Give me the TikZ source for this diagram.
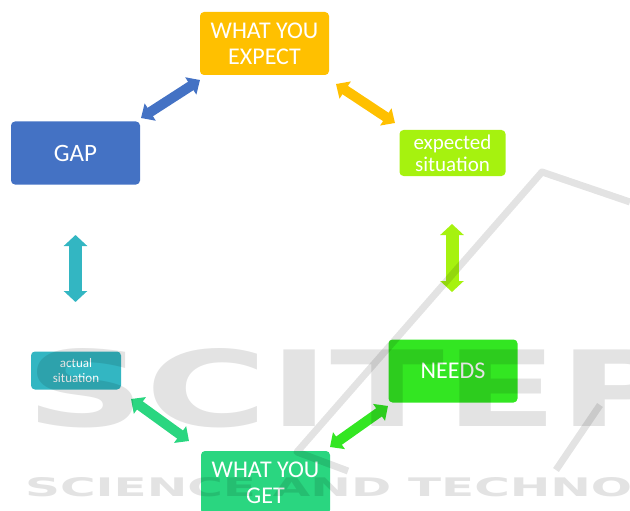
\documentclass[tikz,border=0pt]{standalone}
\usepackage{fontspec}
\setmainfont{Carlito}
\newfontfamily\wmfont{DejaVu Sans}
\usetikzlibrary{arrows.meta}
\definecolor{expectcol}{HTML}{FFC000}
\definecolor{gapcol}{HTML}{4472C4}
\definecolor{expsitcol}{HTML}{A6F20F}
\definecolor{actsitcol}{HTML}{33B6C2}
\definecolor{needscol}{HTML}{33E622}
\definecolor{getcol}{HTML}{2AD680}
\tikzset{
	box/.style={rounded corners=4pt, text=white, align=center, inner sep=0pt},
	bigbox/.style={box, minimum width=129pt, minimum height=63pt, font=\fontsize{24}{26}\selectfont},
	link/.style={line width=10pt, {Triangle[length=11pt,width=20pt]}-{Triangle[length=11pt,width=20pt]}},
	uplink/.style={line width=13pt, {Triangle[length=11pt,width=23pt]}-{Triangle[length=11pt,width=23pt]}},
	wmark/.style={black, opacity=.11},
}

\begin{document}
\begin{tikzpicture}[x=1pt, y=-1pt]
			\useasboundingbox (0,0) rectangle (630,511);
			\clip (0,0) rectangle (630,511);
			% boxes
			\node[bigbox, fill=expectcol] (expect) at (264.5,43.5) {WHAT YOU\\EXPECT};
			\node[bigbox, fill=gapcol, font=\fontsize{25}{27}\selectfont] (gap) at (75.5,153) {GAP};
			\node[box, fill=expsitcol, minimum width=106pt, minimum height=46pt, font=\fontsize{21}{22}\selectfont] (expsit) at (452.5,153) {expected\\situation};
			\node[box, fill=actsitcol, minimum width=90pt, minimum height=38pt, font=\fontsize{13}{15}\selectfont] (actsit) at (76,370.5) {actual\\situation};
			\node[bigbox, fill=needscol] (needs) at (453,371) {NEEDS};
			\node[bigbox, fill=getcol] (get) at (265.5,482.5) {WHAT YOU\\GET};
			
			% arrow ends
			\coordinate (gap-a) at (141,118);
			\coordinate (expect-a) at (200,80);
			\coordinate (expect-b) at (336,84);
			\coordinate (expsit-a) at (395,123);
			\coordinate (expsit-b) at (452,224);
			\coordinate (needs-a) at (452,292);
			\coordinate (needs-b) at (388,406);
			\coordinate (get-a) at (330,447);
			\coordinate (get-b) at (189,441);
			\coordinate (actsit-a) at (131,399);
			\coordinate (gap-b) at (75.5,235);
			\coordinate (actsit-b) at (75.5,302);
			
			\draw[link, gapcol] (gap-a) -- (expect-a);
			\draw[link, expectcol] (expect-b) -- (expsit-a);
			\draw[uplink, expsitcol] (expsit-b) -- (needs-a);
			\draw[link, needscol] (needs-b) -- (get-a);
			\draw[link, getcol] (get-b) -- (actsit-a);
			\draw[uplink, actsitcol] (gap-b) -- (actsit-b);
			
			% watermark
			\node[wmark, anchor=south west, inner sep=0pt] (wmtop) at (25,428) {\resizebox{1130pt}{78pt}{\wmfont\bfseries SCITEPRESS}};
			\node[wmark, anchor=south west, inner sep=0pt] (wmbot) at (25,497) {\resizebox{751pt}{19pt}{\wmfont\bfseries SCIENCE AND TECHNOLOGY}};
			\draw[wmark, line width=7pt, line join=round] (630,202) -- (542,172) -- (297,452) -- (348,471);
			\draw[wmark, line width=7pt] (600,405) -- (556,470);
			
		\end{tikzpicture}
\end{document}
